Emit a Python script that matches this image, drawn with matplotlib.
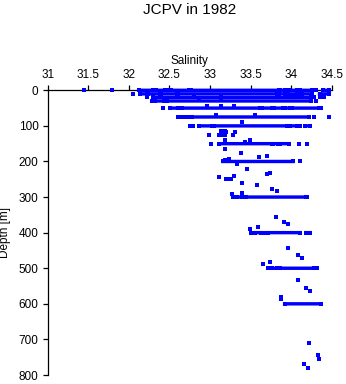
import matplotlib
matplotlib.use("Agg")
import matplotlib.pyplot as plt

# Dense horizontal runs of samples at standard depths: (depth, salinity start, salinity end)
run_depth = ([0] * 12 + [10] * 10 + [20] * 7 + [30] * 4 + [50] * 8 + [75] * 7 +
             [100] * 7 + [150] * 6 + [200] * 2 + [300] * 4 + [400] * 5 + [500] * 4 + [600] * 1)
run_start = [31.45, 31.79, 32.13, 32.33, 32.49, 32.52, 32.77, 33.86, 33.97, 34.11, 34.31, 34.39,
             32.05, 32.14, 32.24, 32.40, 32.61, 33.85, 33.96, 34.10, 34.13, 34.35,
             32.22, 32.30, 33.85, 34.03, 34.28, 34.35, 34.40,
             32.28, 32.32, 32.47, 34.31,
             32.42, 32.51, 32.65, 33.64, 33.79, 33.93, 34.01, 34.37,
             32.61, 32.65, 32.69, 32.73, 32.78, 34.28, 34.47,
             32.75, 32.79, 32.87, 33.05, 33.98, 34.11, 34.17,
             33.01, 33.11, 33.78, 33.86, 34.10, 34.20,
             33.16, 34.11,
             33.28, 33.33, 33.44, 34.20,
             33.51, 33.56, 33.66, 33.71, 34.18,
             33.72, 33.77, 33.86, 34.32,
             33.92]
run_end = [31.45, 31.79, 32.30, 32.45, 32.49, 32.74, 33.85, 33.92, 34.07, 34.26, 34.31, 34.47,
           32.05, 32.22, 32.38, 32.59, 33.83, 33.93, 34.07, 34.10, 34.26, 34.47,
           32.22, 33.83, 34.01, 34.24, 34.28, 34.35, 34.40,
           32.28, 32.43, 34.25, 34.31,
           32.42, 32.61, 33.62, 33.77, 33.90, 33.99, 34.34, 34.37,
           32.61, 32.65, 32.69, 32.73, 34.22, 34.28, 34.47,
           32.75, 32.79, 33.02, 33.95, 34.07, 34.11, 34.23,
           33.01, 33.77, 33.84, 33.97, 34.10, 34.20,
           34.02, 34.11,
           33.29, 33.40, 34.18, 34.20,
           33.51, 33.63, 33.66, 34.11, 34.23,
           33.72, 33.83, 34.28, 34.32,
           34.37]

# Isolated samples
pt_sal = [32.80, 32.86, 33.13, 33.13, 32.96, 33.13, 33.29, 33.07, 33.55, 33.40,
          33.14, 33.20, 33.31, 32.99, 33.11, 33.15, 33.19, 33.15, 33.19, 33.28, 33.49, 33.19, 33.43,
          33.19, 33.38, 33.60, 33.70, 33.24, 33.19,
          33.33, 33.46, 33.70, 33.74, 33.11, 33.24, 33.29, 33.20, 33.26, 33.40, 33.58, 33.76, 33.83,
          33.27, 33.39,
          33.81, 33.91, 33.96, 33.49, 33.59,
          33.96, 34.08, 34.13, 33.65, 33.74,
          34.09, 34.18, 34.23, 33.87, 33.87,
          34.22, 34.33, 34.34, 34.16, 34.21]
pt_depth = [15, 25, 15, 25, 44, 44, 44, 70, 70, 90,
            115, 117, 117, 126, 126, 126, 126, 119, 115, 126, 140, 140, 146,
            166, 177, 188, 185, 194, 196,
            208, 222, 235, 231, 244, 248, 241, 250, 250, 261, 267, 278, 283,
            292, 289,
            355, 371, 376, 390, 385,
            444, 463, 470, 489, 482,
            533, 556, 565, 580, 587,
            711, 744, 755, 770, 781]

x_ticks = [31, 31.5, 32, 32.5, 33, 33.5, 34, 34.5]
x_labels = ["31", "31.5", "32", "32.5", "33", "33.5", "34", "34.5"]
y_ticks = [0, 100, 200, 300, 400, 500, 600, 700, 800]

plt.rcParams['font.family'] = ['Liberation Sans', 'DejaVu Sans']

W, H = 346, 384
AX_L, AX_R, AX_T, AX_B = 47.7, 331.7, 90.3, 375.0
fig = plt.figure(figsize=(W / 100, H / 100), dpi=100)
ax = fig.add_axes([AX_L / W, 1 - AX_B / H, (AX_R - AX_L) / W, (AX_B - AX_T) / H])

blue = (0, 0, 1)
lw = 2.45
ms = 2.3
for d, a, b in zip(run_depth, run_start, run_end):
    ax.plot([a, b], [d, d], color=blue, lw=lw, marker='s', ms=ms, mew=0,
            solid_capstyle='projecting', snap=False, clip_on=False, zorder=3)
ax.plot(pt_sal, pt_depth, ls='none', marker='s', ms=ms, mew=0, color=blue,
        clip_on=False, zorder=3)

ax.set_xlim(31, 34.5)
ax.set_ylim(800, 0)
ax.xaxis.tick_top()
ax.xaxis.set_label_position('top')
ax.set_xticks(x_ticks)
ax.set_xticklabels(x_labels)
ax.set_yticks(y_ticks)
for s in ['right', 'bottom']:
    ax.spines[s].set_visible(False)
for s in ['left', 'top']:
    ax.spines[s].set_linewidth(0.9)
    ax.spines[s].set_zorder(2)
ax.tick_params(direction='out', length=3.6, width=0.9, labelsize=8.5, pad=3, colors='black')
ax.set_xlabel('Salinity', fontsize=8.5, labelpad=4)
ax.set_ylabel('Depth [m]', fontsize=8.5)
ax.yaxis.set_label_coords((11 - AX_L) / (AX_R - AX_L), 0.5)
fig.text(190 / W, 1 - 10 / H, 'JCPV in 1982', ha='center', va='center', fontsize=11)

fig.savefig('out.png', dpi=100)
